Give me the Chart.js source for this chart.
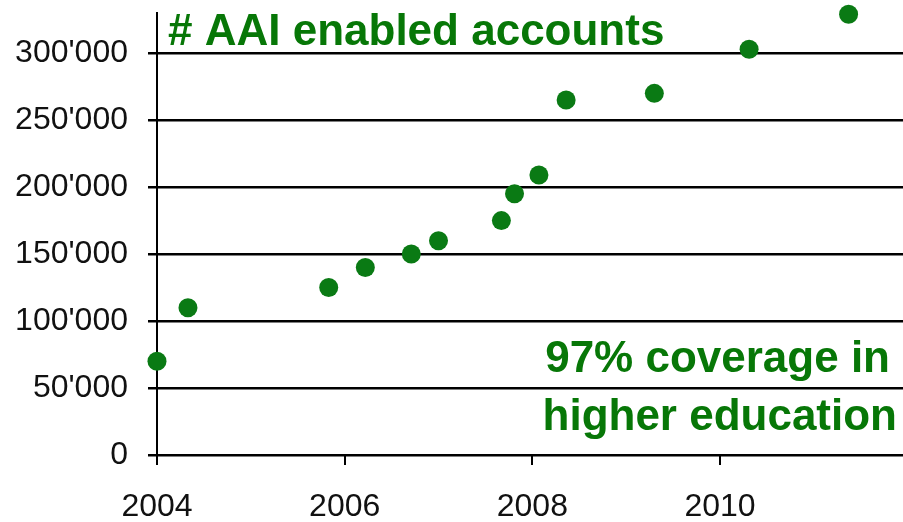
<!DOCTYPE html>
<html>
<head>
<meta charset="utf-8">
<script src="https://cdn.jsdelivr.net/npm/chart.js@4"></script>
<style>
html,body{margin:0;padding:0;background:#fff;overflow:hidden;}
#wrap{width:903px;height:522px;position:relative;}
</style>
</head>
<body>
<div id="wrap"><canvas id="c" width="903" height="522"></canvas></div>
<script>
const years = [2004.0, 2004.33, 2005.83, 2006.22, 2006.71, 2007.0, 2007.67, 2007.81, 2008.07, 2008.36, 2009.3, 2010.31, 2011.37];
const accounts = [70000, 110000, 125000, 140000, 150000, 160000, 175000, 195000, 209000, 265000, 270000, 303000, 329000];
const xTickValues = [2004, 2006, 2008, 2010];
const yTickValues = [0, 50000, 100000, 150000, 200000, 250000, 300000];
const titleText = "# AAI enabled accounts";
const noteLines = ["97% coverage in", "higher education"];

const GREEN = '#0a7a14';
const TEXTGREEN = '#077707';

// points may overflow the plot area (as in the original); don't reserve layout padding for them
Chart.ScatterController.prototype.getMaxOverflow = function () { return 0; };

const textPlugin = {
  id: 'texts',
  afterDraw(chart) {
    const ctx = chart.ctx;
    ctx.save();
    ctx.fillStyle = TEXTGREEN;
    ctx.font = 'bold 44px "Liberation Sans", Arial, sans-serif';
    ctx.textBaseline = 'alphabetic';
    ctx.textAlign = 'left';
    ctx.fillText(titleText, 168, 45);
    ctx.textAlign = 'right';
    ctx.fillText(noteLines[0], 890, 372);
    ctx.fillText(noteLines[1], 897, 430);
    ctx.restore();
  }
};

function zeroPad(s) { s.paddingTop = 0; s.paddingBottom = 0; s.paddingLeft = 0; s.paddingRight = 0; }

new Chart(document.getElementById('c'), {
  type: 'scatter',
  data: {
    datasets: [{
      data: years.map((x, i) => ({x: x, y: accounts[i]})),
      backgroundColor: GREEN,
      borderColor: GREEN,
      pointRadius: 9.5,
      pointHoverRadius: 9.5,
      borderWidth: 0,
      clip: false
    }]
  },
  options: {
    responsive: false,
    animation: false,
    layout: {padding: {top: 13, right: 0, left: 0, bottom: 0}},
    plugins: {legend: {display: false}, tooltip: {enabled: false}, title: {display: false}},
    scales: {
      x: {
        type: 'linear',
        min: 2004,
        max: 2011.95,
        afterBuildTicks: s => { s.ticks = xTickValues.map(v => ({value: v})); },
        afterFit: s => { s.height = 67; zeroPad(s); },
        ticks: {
          color: '#111',
          font: {family: '"Liberation Sans", Arial, sans-serif', size: 32},
          padding: 23,
          maxRotation: 0,
          callback: v => String(v)
        },
        grid: {drawOnChartArea: false, drawTicks: true, tickLength: 10, color: '#000', lineWidth: 2},
        border: {display: true, color: '#000', width: 2}
      },
      y: {
        type: 'linear',
        min: 0,
        max: 330000,
        afterBuildTicks: s => { s.ticks = yTickValues.map(v => ({value: v})); },
        afterFit: s => { s.width = 157; zeroPad(s); },
        ticks: {
          color: '#111',
          font: {family: '"Liberation Sans", Arial, sans-serif', size: 32},
          padding: 20,
          callback: v => v === 0 ? '0' : (v / 1000) + "'000"
        },
        grid: {drawOnChartArea: true, drawTicks: true, tickLength: 9, color: '#000', lineWidth: 2.5},
        border: {display: true, color: '#000', width: 2}
      }
    }
  },
  plugins: [textPlugin]
});
</script>
</body>
</html>
